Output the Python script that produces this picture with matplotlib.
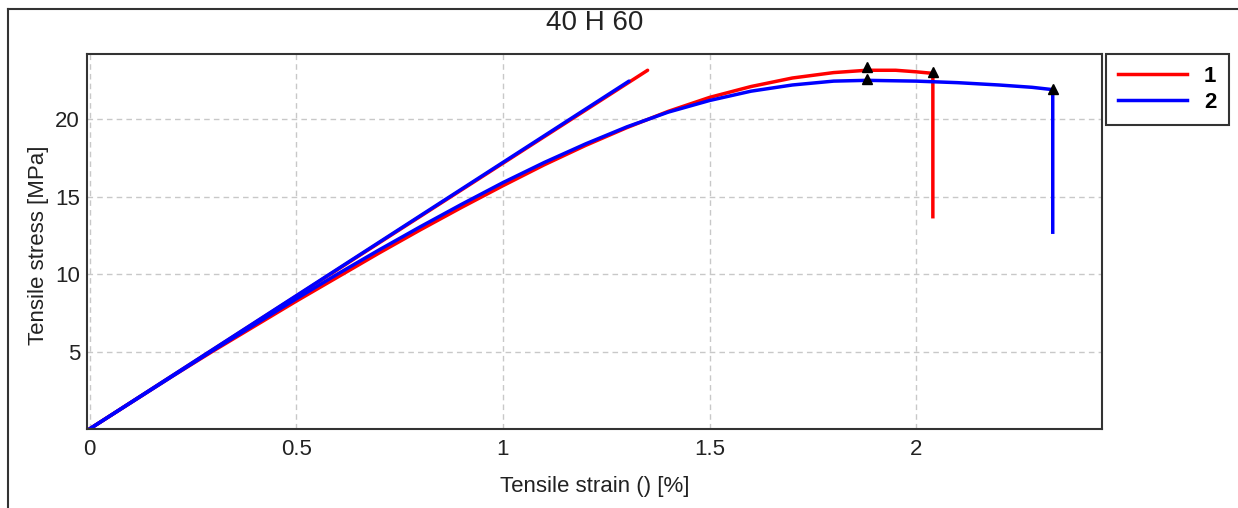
import numpy as np
import matplotlib
matplotlib.use('Agg')
import matplotlib.pyplot as plt
from matplotlib.lines import Line2D

plt.rcParams['font.family'] = ['Liberation Sans', 'DejaVu Sans']

title = '40 H 60'

# specimen 1 (red) - stress/strain curve incl. drop at break
strain_1 = [0, 0.1, 0.2, 0.3, 0.4, 0.5, 0.6, 0.7, 0.8, 0.9, 1.0, 1.1, 1.2, 1.3, 1.4, 1.5,
            1.6, 1.7, 1.8, 1.88, 1.95, 2.0, 2.04, 2.04]
stress_1 = [0, 1.7, 3.4, 5.05, 6.65, 8.25, 9.8, 11.35, 12.85, 14.3, 15.7, 17.05, 18.3, 19.45,
            20.5, 21.4, 22.1, 22.65, 23.0, 23.15, 23.15, 23.05, 22.95, 13.7]
# specimen 2 (blue)
strain_2 = [0, 0.1, 0.2, 0.3, 0.4, 0.5, 0.6, 0.7, 0.8, 0.9, 1.0, 1.1, 1.2, 1.3, 1.4, 1.5,
            1.6, 1.7, 1.8, 1.88, 2.0, 2.1, 2.2, 2.28, 2.33, 2.33]
stress_2 = [0, 1.7, 3.4, 5.1, 6.75, 8.4, 10.0, 11.55, 13.05, 14.5, 15.9, 17.2, 18.4, 19.5,
            20.45, 21.2, 21.8, 22.2, 22.45, 22.5, 22.45, 22.35, 22.2, 22.05, 21.9, 12.7]

# modulus lines
mod_strain_1 = [0, 1.35]
mod_stress_1 = [0, 23.15]
mod_strain_2 = [0, 1.305]
mod_stress_2 = [0, 22.45]

# markers: max stress and break
mark_strain_1 = [1.88, 2.04]
mark_stress_1 = [23.35, 23.05]
mark_strain_2 = [1.88, 2.33]
mark_stress_2 = [22.6, 21.95]

fig = plt.figure(figsize=(12.38, 5.08), dpi=100)
ax = fig.add_axes([0.0703, 0.1555, 0.8198, 0.7382])

ax.plot(mod_strain_1, mod_stress_1, color='red', lw=2.5, solid_capstyle='round')
ax.plot(strain_1, stress_1, color='red', lw=2.5)
ax.plot(mod_strain_2, mod_stress_2, color='blue', lw=2.5, solid_capstyle='round')
ax.plot(strain_2, stress_2, color='blue', lw=2.5)
ax.plot(mark_strain_1, mark_stress_1, '^', color='black', ms=7, ls='none')
ax.plot(mark_strain_2, mark_stress_2, '^', color='black', ms=7, ls='none')

ax.set_xlim(-0.006, 2.449)
ax.set_ylim(0, 24.2)
ax.set_xticks([0, 0.5, 1, 1.5, 2])
ax.set_xticklabels(['0', '0.5', '1', '1.5', '2'])
ax.set_yticks([5, 10, 15, 20])
ax.tick_params(length=0, labelsize=16, labelcolor='#222222')
ax.tick_params(axis='x', pad=7)
ax.tick_params(axis='y', pad=5)
ax.grid(True, color='#c8c8c8', ls=(0, (4, 3)), lw=1)
ax.set_axisbelow(True)
for s in ax.spines.values():
    s.set_color('#333333')
    s.set_linewidth(1.5)

ax.set_xlabel('Tensile strain () [%]', fontsize=16, color='#222222', labelpad=12)
ax.set_ylabel('Tensile stress [MPa]', fontsize=16, color='#222222')
ax.yaxis.set_label_coords(-0.0375, 0.49)
fig.text(0.48, 0.955, title, ha='center', va='center', fontsize=20, color='#222222')

handles = [Line2D([], [], color='red', lw=2.5), Line2D([], [], color='blue', lw=2.5)]
leg = fig.legend(handles, ['1', '2'], loc='upper left', bbox_to_anchor=(0.8935, 0.8937),
                 prop={'weight': 'bold', 'size': 16}, fancybox=False, framealpha=1,
                 edgecolor='#333333', handlelength=3.1, borderpad=0.55, labelspacing=0.2,
                 handletextpad=0.75, borderaxespad=0)
leg.get_frame().set_linewidth(1.5)

# outer frame (only top and left visible)
fig.add_artist(Line2D([8 / 1238, 1], [1 - 9 / 508, 1 - 9 / 508], color='#333333', lw=1.5,
                      transform=fig.transFigure))
fig.add_artist(Line2D([8 / 1238, 8 / 1238], [0, 1 - 9 / 508], color='#333333', lw=1.5,
                      transform=fig.transFigure))

fig.savefig('out.png', dpi=100)
